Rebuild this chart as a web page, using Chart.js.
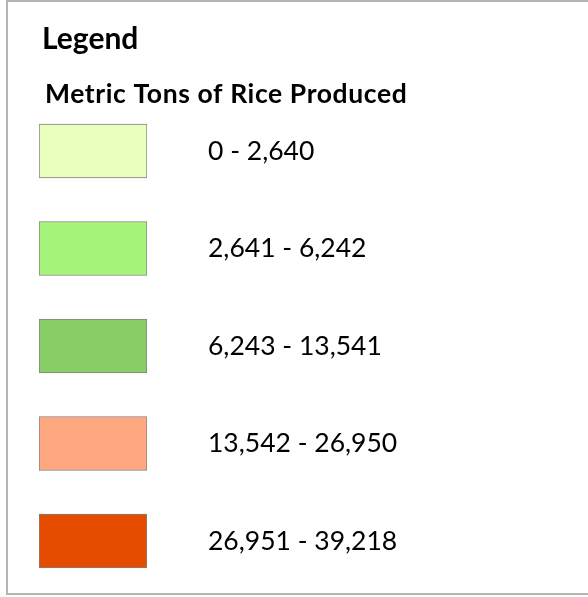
<!DOCTYPE html>
<html>
<head>
<meta charset="utf-8">
<script src="https://cdn.jsdelivr.net/npm/chart.js@4"></script>
<style>
  html, body { margin: 0; padding: 0; background: #fff; overflow: hidden; }
  #frame {
    position: absolute; left: 6px; top: 0; width: 700px; height: 595px;
    box-sizing: border-box; border: 2px solid #b4b4b4;
  }
  #legendChart { position: absolute; left: 0; top: 0; }
</style>
</head>
<body>
<div id="frame"></div>
<canvas id="legendChart" width="588" height="597"></canvas>
<script>
/* Rice production classes */
const classLabels = ["0 - 2,640", "2,641 - 6,242", "6,243 - 13,541", "13,542 - 26,950", "26,951 - 39,218"];
const classColors = ["#E9FFBE", "#A6F47A", "#89CD66", "#FFA77F", "#E64C00"];
const swatchValues = [1, 1, 1, 1, 1];

// shift the two heading lines a few px right of the swatches,
// and open up the letters of the subtitle a little
const headingNudge = {
  id: "headingNudge",
  afterLayout(chart) {
    chart.boxes.forEach(b => {
      const t = b.options && b.options.text;
      if (t === "Legend") { b.left += 3; b.right += 3; }
      if (t === "Metric Tons of Rice Produced") {
        b.left += 6; b.right += 6;
        if (!b._spaced) {
          const draw = b.draw.bind(b);
          b.draw = function (area) {
            const c = this.ctx;
            const prev = c.letterSpacing;
            c.letterSpacing = "0.6px";
            draw(area);
            c.letterSpacing = prev;
          };
          b._spaced = true;
        }
      }
    });
  }
};

const ctx = document.getElementById("legendChart");

new Chart(ctx, {
  type: "bar",
  data: {
    labels: classLabels,
    datasets: [{
      data: swatchValues,
      backgroundColor: classColors,
      borderColor: "#808080",
      borderWidth: 1,
      borderSkipped: false,
      barThickness: 54
    }]
  },
  options: {
    indexAxis: "y",
    responsive: false,
    animation: false,
    layout: { padding: { left: 39, right: 0, top: 0, bottom: 7.25 } },
    scales: {
      x: { display: false, min: 0, max: 1 },
      y: {
        position: "right",
        grid: { display: false, drawTicks: false },
        border: { display: false },
        ticks: {
          autoSkip: false,
          padding: 61,
          color: "#000",
          font: { family: "Lato", size: 26.5 }
        },
        afterFit(scale) {
          scale.width = 441;
          scale.paddingTop = 0;
          scale.paddingBottom = 0;
        }
      }
    },
    plugins: {
      legend: { display: false },
      tooltip: { enabled: false },
      title: {
        display: true,
        text: "Legend",
        align: "start",
        color: "#000",
        font: { family: "Lato", size: 30, weight: "bold", lineHeight: 1.2 },
        padding: { top: 21.3, bottom: 0 }
      },
      subtitle: {
        display: true,
        text: "Metric Tons of Rice Produced",
        align: "start",
        color: "#000",
        font: { family: "Lato", size: 26.5, weight: "bold", lineHeight: 0.5 },
        padding: { top: 30.4, bottom: 1.3 }
      }
    }
  },
  plugins: [headingNudge]
});
</script>
</body>
</html>
